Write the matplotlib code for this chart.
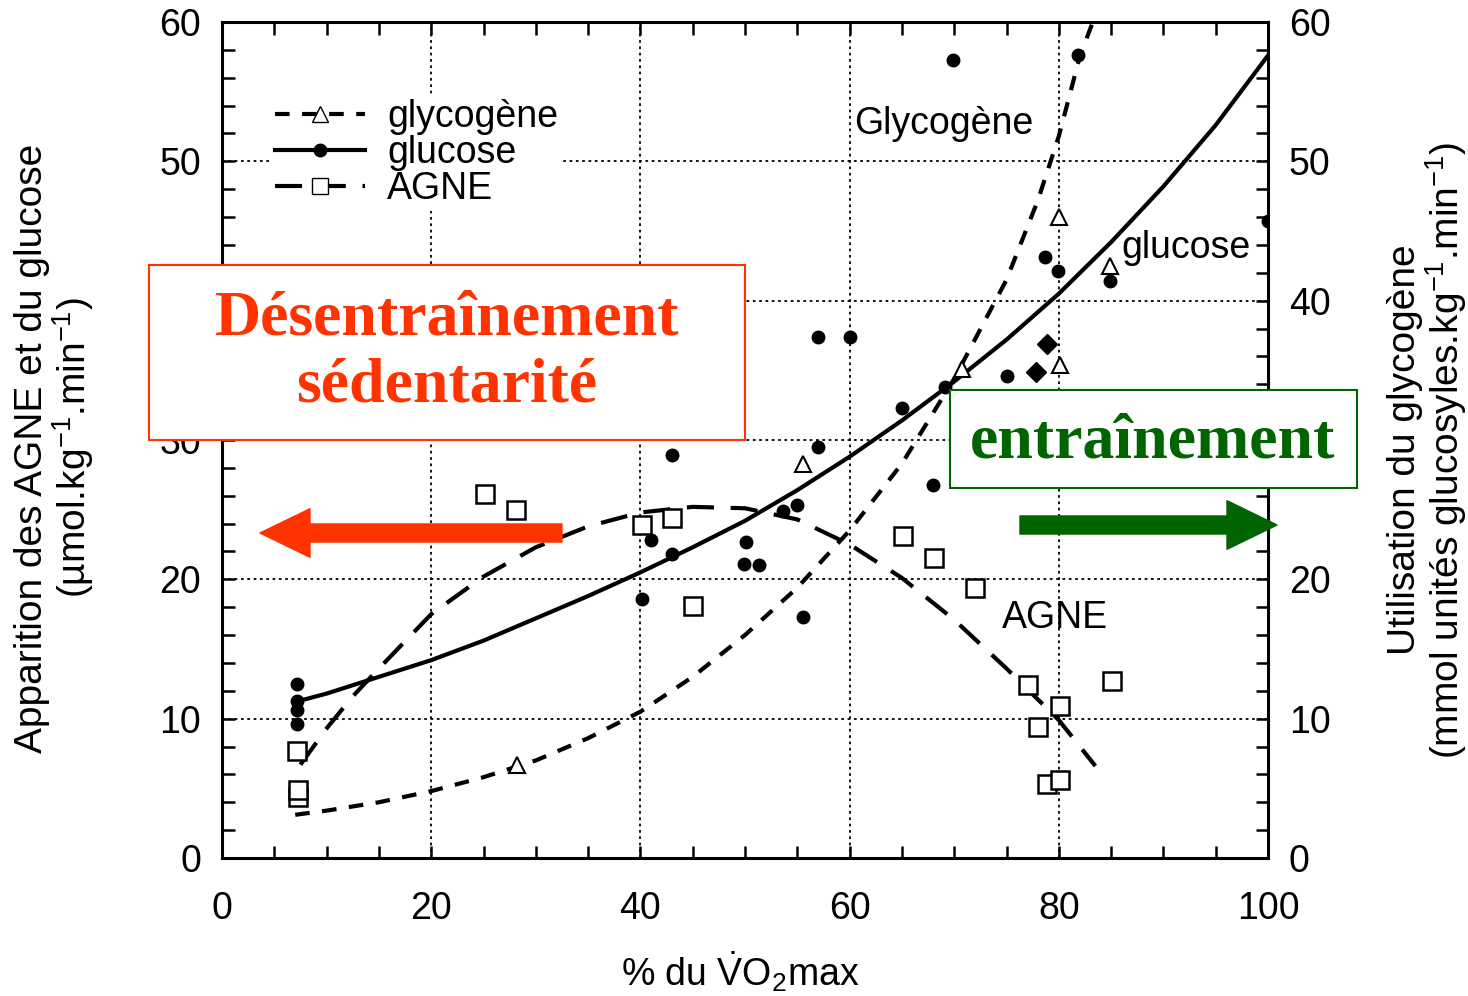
import matplotlib
matplotlib.use('Agg')
import matplotlib.pyplot as plt
from matplotlib.lines import Line2D
from matplotlib.patches import Rectangle, FancyArrowPatch
from matplotlib.ticker import MultipleLocator

plt.rcParams['font.family'] = ['Liberation Sans', 'DejaVu Sans']
plt.rcParams['mathtext.fontset'] = 'custom'
plt.rcParams['mathtext.rm'] = 'Liberation Sans'
plt.rcParams['mathtext.it'] = 'Liberation Sans:italic'
plt.rcParams['mathtext.bf'] = 'Liberation Sans:bold'

# fitted curves
glucose_curve_x = [7, 10, 15, 20, 25, 30, 35, 40, 45, 50, 55, 60, 65, 70, 75, 80, 85, 90, 95, 100]
glucose_curve_y = [11.2, 11.8, 13.0, 14.2, 15.6, 17.2, 18.8, 20.5, 22.3, 24.2, 26.4, 28.8, 31.4, 34.2, 37.2, 40.5, 44.2, 48.2, 52.6, 57.6]

glyco_curve_x = [7, 10, 15, 20, 25, 30, 35, 40, 45, 50, 55, 60, 65, 70, 75, 78, 80, 82, 84]
glyco_curve_y = [3.1, 3.4, 4.0, 4.8, 5.8, 7.0, 8.6, 10.5, 13.0, 16.0, 19.4, 23.5, 28.3, 34.4, 41.5, 47.2, 51.8, 57.5, 61.5]

agne_curve_x = [7.5, 10, 12.5, 15, 20, 25, 30, 35, 40, 45, 50, 55, 60, 65, 70, 75, 80, 83.5]
agne_curve_y = [6.7, 9.3, 11.6, 13.6, 17.5, 20.2, 22.3, 23.8, 24.8, 25.2, 25.1, 24.3, 22.5, 20.1, 17.1, 13.6, 9.9, 6.6]

# measured points
glucose_x = [7.2, 7.2, 7.2, 7.2, 43.0, 41.0, 43.0, 40.2, 50.1, 49.9, 51.3, 55.0, 53.6, 55.5,
             57.0, 60.0, 57.0, 65.0, 68.0, 69.1, 69.9, 75.0, 78.7, 79.9, 81.8, 84.9, 100.0]
glucose_y = [12.5, 11.3, 10.6, 9.6, 28.9, 22.8, 21.8, 18.6, 22.7, 21.1, 21.0, 25.3, 24.9, 17.3,
             37.4, 37.4, 29.5, 32.3, 26.8, 33.8, 57.3, 34.6, 43.1, 42.1, 57.6, 41.4, 45.7]

overlap_x = [77.8, 78.9]
overlap_y = [34.9, 36.9]

glyco_x = [28.2, 55.5, 70.7, 80.1, 80.0, 84.9]
glyco_y = [6.7, 28.3, 35.1, 35.4, 46.0, 42.5]

agne_x = [7.2, 7.3, 7.3, 25.1, 28.1, 40.2, 43.0, 45.0, 65.1, 68.1, 72.0, 77.1, 80.1, 78.0, 78.9, 80.1, 85.1]
agne_y = [7.7, 4.4, 4.9, 26.1, 25.0, 23.9, 24.4, 18.1, 23.1, 21.5, 19.4, 12.4, 10.9, 9.4, 5.3, 5.6, 12.7]

W, H = 1468, 996
fig = plt.figure(figsize=(W / 100, H / 100), dpi=100)
ax = fig.add_axes([222 / W, 1 - 858 / H, 1046 / W, 836 / H])
ax.set_xlim(0, 100)
ax.set_ylim(0, 60)

glyco_ls = (0, (3.5, 3))
agne_ls = (0, (6.5, 4))

ax.plot(glucose_curve_x, glucose_curve_y, color='black', lw=3, zorder=3)
ax.plot(glyco_curve_x, glyco_curve_y, color='black', lw=3, ls=glyco_ls, zorder=3)
ax.plot(agne_curve_x, agne_curve_y, color='black', lw=3, ls=agne_ls, zorder=3)

ax.plot(glucose_x, glucose_y, 'o', color='black', ms=9, zorder=4)
ax.plot(overlap_x, overlap_y, 'D', color='black', ms=10, zorder=4)
ax.plot(glyco_x, glyco_y, '^', mfc='white', mec='black', mew=1.5, ms=11, zorder=4)
ax.plot(agne_x, agne_y, 's', mfc='white', mec='black', mew=1.8, ms=13, zorder=4)

ax.xaxis.set_major_locator(MultipleLocator(20))
ax.xaxis.set_minor_locator(MultipleLocator(5))
ax.yaxis.set_major_locator(MultipleLocator(10))
ax.yaxis.set_minor_locator(MultipleLocator(2))
ax.tick_params(which='both', direction='in', top=True, right=True, labelright=True,
               length=9, width=1.8, labelsize=27)
ax.tick_params(axis='x', pad=24)
ax.tick_params(axis='y', pad=15)
ax.grid(which='major', color='black', ls=(0, (1.5, 2)), lw=1.3)
for s in ax.spines.values():
    s.set_linewidth(2.2)

# the right-hand "30" sits under the green box in the original
fig.canvas.draw()
for t in ax.yaxis.get_majorticklabels():
    pass
for tick in ax.yaxis.get_major_ticks():
    if abs(tick.get_loc() - 30) < 1e-6:
        tick.label2.set_visible(False)

# legend
handles = [
    Line2D([], [], color='black', lw=3, ls=glyco_ls, marker='^', mfc='white', mec='black', ms=11),
    Line2D([], [], color='black', lw=3, marker='o', ms=9),
    Line2D([], [], color='black', lw=3, ls=agne_ls, marker='s', mfc='white', mec='black', ms=12),
]
leg = ax.legend(handles, ['glycogène', 'glucose', 'AGNE'], loc='upper left',
                bbox_to_anchor=(0.047, 0.912), fontsize=27, frameon=True, fancybox=False,
                handlelength=2.4, handletextpad=0.6, labelspacing=0.0, borderpad=0.1,
                borderaxespad=0)
leg.get_frame().set_edgecolor('none')
leg.get_frame().set_alpha(1)

ax.text(69, 52.7, 'Glycogène', fontsize=27, ha='center', va='center', zorder=5)
ax.text(86.0, 43.8, 'glucose', fontsize=27, ha='left', va='center', zorder=5)
ax.text(74.6, 17.2, 'AGNE', fontsize=27, ha='left', va='center', zorder=5)

# axis titles
fig.text(740 / W, 1 - 972 / H, r'% du $\dot{\mathrm{V}}$O$_2$max', fontsize=27,
         ha='center', va='center')
fig.text(55 / W, 1 - 448 / H, 'Apparition des AGNE et du glucose\n(µmol.kg$^{-1}$.min$^{-1}$)',
         fontsize=28, rotation=90, ha='center', va='center', linespacing=1.0)
fig.text(1428 / W, 1 - 450 / H, 'Utilisation du glycogène\n(mmol unités glucosyles.kg$^{-1}$.min$^{-1}$)',
         fontsize=28, rotation=90, ha='center', va='center', linespacing=1.0)

# annotation boxes and arrows
red = '#ff3300'
green = '#006400'

def fbox(x0, y0, x1, y1, ec):
    fig.add_artist(Rectangle((x0 / W, 1 - y1 / H), (x1 - x0) / W, (y1 - y0) / H,
                             transform=fig.transFigure, facecolor='white', edgecolor=ec,
                             lw=1.5, zorder=6))

fbox(149, 265, 745, 440, red)
fig.text(447 / W, 1 - 353 / H, 'Désentraînement\nsédentarité', family='Liberation Serif',
         weight='bold', fontsize=46, color=red, ha='center', va='center', linespacing=1.2, zorder=7)

fbox(950, 390, 1357, 488, green)
fig.text(1153 / W, 1 - 442 / H, 'entraînement', family='Liberation Serif', weight='bold',
         fontsize=46, color=green, ha='center', va='center', zorder=7)

def farrow(x0, x1, y, c):
    fig.add_artist(FancyArrowPatch((x0 / W, 1 - y / H), (x1 / W, 1 - y / H),
                                   transform=fig.transFigure,
                                   arrowstyle='simple,head_length=36,head_width=35,tail_width=13',
                                   mutation_scale=1, shrinkA=0, shrinkB=0, color=c, zorder=7))

farrow(562, 260, 533, red)
farrow(1020, 1277, 525, green)

fig.savefig('out.png', dpi=100)
